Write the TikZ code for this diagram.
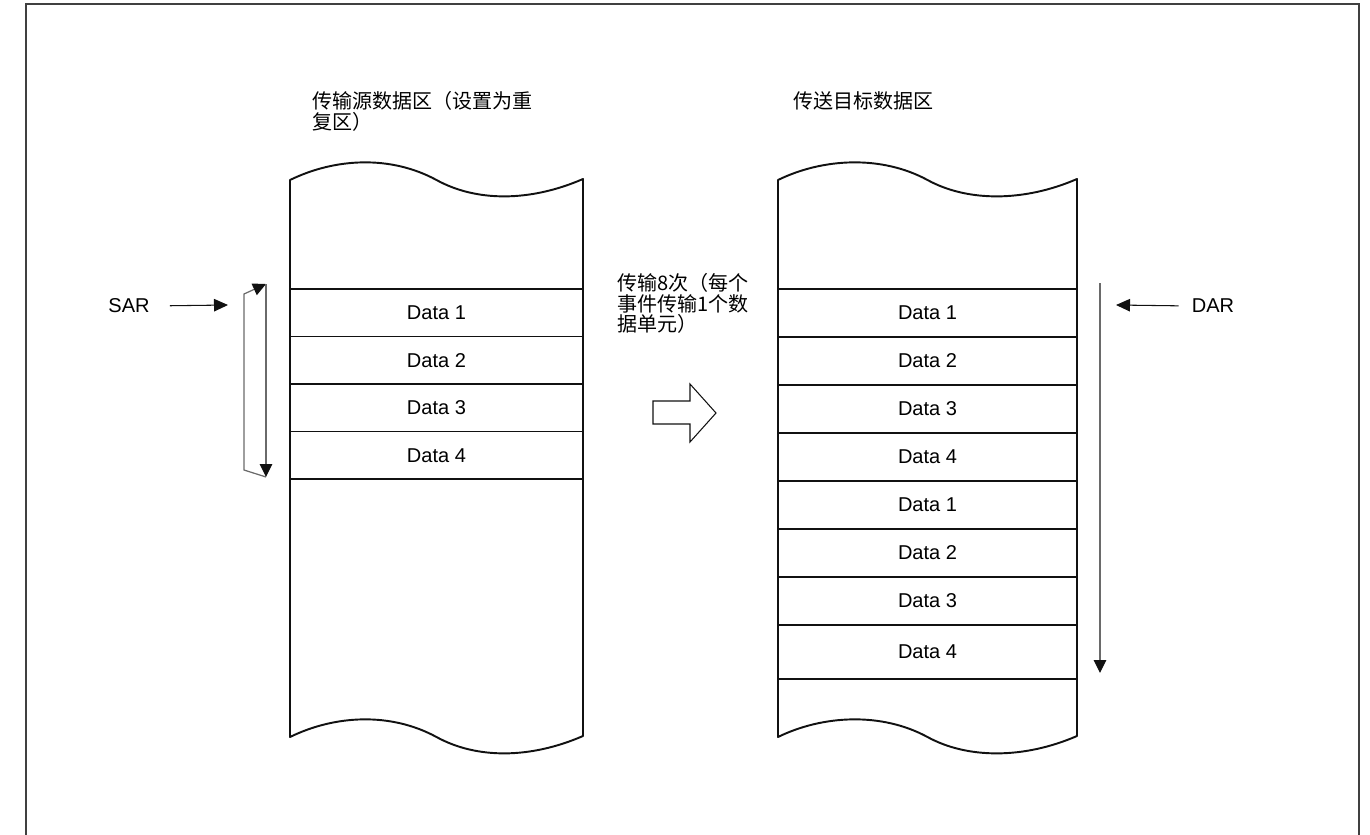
\documentclass[tikz,border=0pt]{standalone}
\usepackage{fontspec}
\setmainfont{Liberation Sans}
\newfontfamily\cjk{Noto Sans CJK SC}
\usetikzlibrary{arrows.meta,positioning}
\definecolor{Frame}{HTML}{404040}
\definecolor{Guide}{HTML}{6A6A6A}
\definecolor{Ink}{HTML}{111111}
\tikzset{
  cell/.style={draw=Ink,line width=.6pt,minimum height=.96cm,inner sep=0pt,font=\fontsize{11.4}{13}\selectfont},
  colline/.style={draw=Ink,line width=1.1pt,line join=round},
  frameline/.style={draw=Frame,line width=1.2pt},
  caption/.style={inner sep=0pt,align=left,font=\cjk\fontsize{11.4}{11.8}\selectfont},
  reg/.style={inner sep=0pt,font=\fontsize{11.4}{13}\selectfont},
  ptr/.style={-{Triangle[length=2.8mm,width=2.5mm]},draw=Ink,line width=.6pt},
  guide/.style={-{Triangle[length=2.6mm,width=2.5mm,color=Ink]},draw=Guide,line width=.7pt},
  hollow/.style={draw=Ink,line width=.6pt,line join=miter}
}
% memory column with torn top and bottom edge: #1 left x, #2 width
\newcommand{\memcolumn}[2]{%
  \draw[colline] (#1,180) .. controls +(45,-22) and +(-46,-25) .. ({#1+#2/2},180)
    .. controls +(40,22) and +(-53,23) .. ({#1+#2},179) -- ({#1+#2},736)
    .. controls +(-53,23) and +(40,22) .. ({#1+#2/2},737)
    .. controls +(-46,-25) and +(45,-22) .. (#1,737) -- cycle;}
\begin{document}
\begin{tikzpicture}[x=0.02cm,y=-0.02cm]
  \useasboundingbox (0,0) rectangle (1370,835);
  \draw[frameline] (26,835) -- (26,4) -- (1359,4) -- (1359,835);

  % source area
  \node[caption,anchor=north west] (srctitle) at (312,91) {传输源数据区（设置为重\\复区）};
  \foreach \i in {1,...,4}
    \node[cell,minimum width=5.86cm,minimum height=.95cm] (src\i) at (436.5,{289+47.5*(\i-1)+23.75}) {Data \i};
  \memcolumn{290}{293}

  % destination area
  \node[caption,anchor=north west] (dsttitle) at (793,91) {传送目标数据区};
  \foreach \i/\d in {1/1,2/2,3/3,4/4,5/1,6/2,7/3}
    \node[cell,minimum width=5.98cm] (dst\i) at (927.5,{289+48*(\i-1)+24}) {Data \d};
  \node[cell,minimum width=5.98cm,minimum height=1.08cm] (dst8) at (927.5,652) {Data 4};
  \memcolumn{778}{299}

  % transfer note and hollow arrow
  \node[caption,anchor=north west] (note) at (617,273) {传输8次（每个\\事件传输1个数\\据单元）};
  \draw[hollow] (653,401) -- (690,401) -- (690,384) -- (716,413) -- (690,442) -- (690,424) -- (653,424) -- cycle;

  % SAR and its repeat loop
  \node[reg] (sar) at (129,306) {SAR};
  \coordinate (sarhit) at (228,305);
  \draw[ptr,shorten <=.4cm] (sar.east) -- (sarhit);
  \coordinate (looptop) at (266,284);
  \coordinate (loopbot) at (266,477);
  \coordinate (loopbl) at (244,470);
  \coordinate (looptl) at (244,294);
  \draw[guide] (loopbot) -- (loopbl) -- (looptl) -- (looptop);
  \draw[guide] (looptop) -- (loopbot);

  % DAR and its run
  \node[reg] (dar) at (1213,306) {DAR};
  \coordinate (darhit) at (1116,305);
  \draw[ptr,shorten <=.26cm] (dar.west) -- (darhit);
  \coordinate (runtop) at (1100,283);
  \coordinate (runbot) at (1100,673);
  \draw[guide] (runtop) -- (runbot);
\end{tikzpicture}
\end{document}
